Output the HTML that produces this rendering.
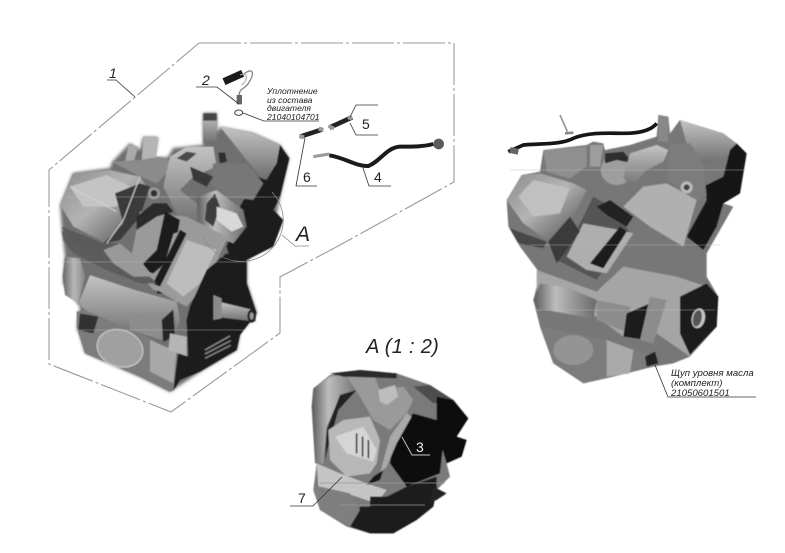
<!DOCTYPE html>
<html><head><meta charset="utf-8"><style>
html,body{margin:0;padding:0;background:#fff;width:785px;height:553px;overflow:hidden}
svg{display:block}
text{font-family:"Liberation Sans",sans-serif;fill:#222}
.i{font-style:italic}
.l{fill:none;stroke:#333;stroke-width:.8}
.b{fill:none;stroke:#9a9a9a;stroke-width:1.1;stroke-dasharray:42 3 3 3}
</style></head><body>
<svg width="785" height="553" viewBox="0 0 785 553" xmlns="http://www.w3.org/2000/svg">
<defs>
<filter id="s" x="-5%" y="-5%" width="110%" height="110%"><feGaussianBlur stdDeviation="1.6"/></filter>
<linearGradient id="g1" x1="0" y1="0" x2="1" y2="1"><stop offset="0" stop-color="#8c8c8c"/><stop offset=".45" stop-color="#b4b4b4"/><stop offset="1" stop-color="#4a4a4a"/></linearGradient>
<linearGradient id="g2" x1="0" y1="0" x2="1" y2="0"><stop offset="0" stop-color="#5a5a5a"/><stop offset=".35" stop-color="#bdbdbd"/><stop offset="1" stop-color="#6a6a6a"/></linearGradient>
<linearGradient id="g3" x1="0" y1="0" x2="0" y2="1"><stop offset="0" stop-color="#c4c4c4"/><stop offset="1" stop-color="#6e6e6e"/></linearGradient>
<linearGradient id="g5" x1="0" y1="0" x2="1" y2="0"><stop offset="0" stop-color="#666"/><stop offset=".5" stop-color="#b8b8b8"/><stop offset="1" stop-color="#888"/></linearGradient>
</defs>
<rect width="785" height="553" fill="#fff"/>

<!-- dash-dot border -->
<path class="b" d="M199 43H454V182L340 245L280 277V333L171 412L49 364V170Z"/>

<!-- Engine 1 silhouette in page coordinates -->
<polygon filter="url(#s)" fill="#6f6f6f" points="60,205 73,173 110,168 112,162 130,143 140,150 143,137 158,137 155,158 168,157 173,148 203,145 203,113 217,113 217,133 220,127 253,133 280,145 289,158 280,197 277,213 280,226 273,240 267,245 247,260 247,283 257,313 240,333 237,350 200,372 170,392 140,377 85,353 77,327 80,307 63,283 65,257 62,230"/>

<!-- Engine 1 upper: crop (40,30) 3x -->
<g transform="translate(40,30) scale(.33333)" filter="url(#s)">
<polygon fill="url(#g1)" points="60,525 100,430 210,420 300,440 320,470 280,590 200,640 100,590"/>
<polygon fill="#c4c4c4" points="90,470 200,435 270,470 230,530 130,530"/>
<polygon fill="#3b3b3b" points="225,490 300,460 330,470 300,560 240,630 190,640 250,580"/>
<polygon fill="#5a5a5a" points="65,590 190,640 240,640 200,690 100,660"/>
<polygon fill="#a9a9a9" points="265,345 295,350 280,400 255,395"/>
<polygon fill="#b5b5b5" points="310,320 355,322 345,395 305,395"/>
<polygon fill="#8b8b8b" points="215,395 300,390 360,380 410,400 350,460 300,440"/>
<polygon fill="url(#g3)" points="370,470 390,380 440,350 520,350 530,410 460,440 420,480 470,520 470,590 420,570"/>
<polygon fill="#4c4c4c" points="410,385 440,365 470,370 440,395"/>
<polygon fill="url(#g3)" points="490,250 530,250 530,340 490,340"/>
<polygon fill="#444" points="490,250 530,250 530,272 490,272"/>
<polygon fill="url(#g3)" points="540,290 640,310 720,345 710,400 670,450 620,390"/>
<polygon fill="#1f1f1f" points="720,345 748,385 720,500 700,540 730,570 700,650 620,690 580,720 560,650 600,530 650,440 680,450 710,400"/>
<polygon fill="#777" points="520,400 620,400 670,460 640,510 560,500 510,460"/>
<polygon fill="#2f2f2f" points="535,368 555,368 560,395 540,400"/>
<polygon fill="#383838" points="450,410 520,440 500,470 460,450"/>
<polygon fill="url(#g2)" points="470,500 530,480 610,540 620,590 580,640 480,600"/>
<polygon fill="#3d3d3d" points="500,520 525,490 540,530 520,590 495,570"/>
<polygon fill="#d8d8d8" points="530,530 590,550 610,590 575,605 530,570"/>
<circle cx="342" cy="490" r="18" fill="#9a9a9a"/><circle cx="342" cy="490" r="10" fill="#333"/>
<polygon fill="#9a9a9a" points="300,545 440,560 560,620 520,720 420,790 340,780 270,700"/>
<polygon fill="#2a2a2a" points="290,560 340,520 380,520 400,545 350,560 290,600"/>
<polygon fill="#1c1c1c" points="375,545 420,570 400,680 340,730 290,720 350,660"/>
<polygon fill="#1a1a1a" points="440,620 450,640 370,790 350,790"/>
<path d="M90 470L230 545M300 440L250 570L200 640" fill="none" stroke="#d4d4d4" stroke-width="3"/>
</g>

<!-- Engine 1 lower: crop (40,220) 3x -->
<g transform="translate(40,220) scale(.33333)" filter="url(#s)">
<polygon fill="#9b9b9b" points="400,40 440,30 560,60 520,140 480,210 440,260 410,245 350,210"/>
<polygon fill="#bdbdbd" points="440,60 530,90 480,190 430,230 380,190"/>
<polygon fill="#1a1a1a" points="420,30 440,40 360,200 340,190"/>
<polygon fill="#5c5c5c" points="65,30 110,70 200,100 290,130 350,190 300,190 200,150 100,100 70,60"/>
<polygon fill="#999" points="190,90 240,70 300,120 340,170 280,170 220,130"/>
<polygon fill="url(#g5)" points="75,110 120,115 135,170 115,250 75,225 68,170"/>
<polygon fill="url(#g3)" points="115,250 150,165 285,210 410,245 420,300 400,360 370,360 270,330 135,270"/>
<polygon fill="#8d8d8d" points="265,275 370,300 365,360 270,330"/>
<polygon fill="#262626" points="365,300 400,268 405,350 370,365"/>
<polygon fill="#7c7c7c" points="110,275 135,270 270,330 330,355 410,400 400,510 390,515 300,470 135,400 110,320"/>
<ellipse cx="240" cy="385" rx="70" ry="55" fill="#a0a0a0" transform="rotate(18 240 385)"/>
<polygon fill="#333" points="120,280 175,290 160,340 115,330"/>
<polygon fill="#a8a8a8" points="330,360 410,395 400,490 330,455"/>
<polygon fill="#b5b5b5" points="390,340 440,350 440,410 385,390"/>
<polygon fill="#1d1d1d" points="450,260 500,150 560,100 620,120 620,190 650,280 600,345 590,390 480,455 420,480 400,512 415,400 445,410 440,300"/>
<polygon fill="url(#g3)" points="535,245 640,270 648,305 540,292"/>
<ellipse cx="635" cy="288" rx="13" ry="20" fill="#222"/><ellipse cx="635" cy="288" rx="6" ry="11" fill="#999"/>
<polygon fill="#8a8a8a" points="520,225 545,235 545,295 520,300"/>
<g stroke="#8a8a8a" stroke-width="4"><line x1="495" y1="390" x2="570" y2="348"/><line x1="495" y1="402" x2="572" y2="362"/><line x1="495" y1="415" x2="572" y2="376"/></g>
<ellipse cx="240" cy="385" rx="70" ry="55" fill="none" stroke="#cfcfcf" stroke-width="3" transform="rotate(18 240 385)"/>
</g>

<!-- small parts -->
<g transform="translate(40,30) scale(.33333)">
<path d="M552 155L608 130" stroke="#1a1a1a" stroke-width="22" fill="none"/>
<path d="M612 132C640 110 645 130 625 160C612 180 595 175 598 200" stroke="#888" stroke-width="4" fill="none"/>
<path d="M600 135C625 125 625 150 605 165" stroke="#aaa" stroke-width="3" fill="none"/>
<rect x="590" y="195" width="16" height="28" fill="#666"/>
<ellipse cx="596" cy="248" rx="12" ry="8" fill="#fff" stroke="#444" stroke-width="3"/>
<path d="M780 320L848 298" stroke="#222" stroke-width="14" fill="none"/>
<path d="M778 318L792 322M836 296L850 300" stroke="#999" stroke-width="12" fill="none"/>
<path d="M868 293L936 262" stroke="#222" stroke-width="14" fill="none"/>
<path d="M866 288L882 296M924 262L936 266" stroke="#999" stroke-width="11" fill="none"/>
<path d="M820 380L868 372" stroke="#999" stroke-width="9" fill="none"/>
<path d="M868 376C920 385 950 410 985 408C1020 395 1040 352 1080 350C1120 350 1150 350 1180 342" stroke="#1b1b1b" stroke-width="12" fill="none"/>
<ellipse cx="1196" cy="342" rx="16" ry="16" fill="#5b5b5b"/>
</g>

<!-- Engine 2 : crop (490,100) 3x -->
<g transform="translate(490,100) scale(.33333)" filter="url(#s)">
<polygon fill="#777" points="50,300 95,225 150,215 160,150 290,135 310,125 340,130 345,150 420,135 500,110 505,45 535,50 540,100 570,60 700,100 770,160 750,280 700,310 730,320 690,390 650,460 650,530 685,590 680,680 600,770 550,790 490,800 370,830 280,850 240,800 190,790 150,680 130,600 150,520 90,440 55,380"/>
<polygon fill="url(#g1)" points="50,300 95,225 150,220 250,250 290,270 250,350 170,420 100,370"/>
<polygon fill="#c0c0c0" points="85,290 130,240 240,265 210,340 130,350"/>
<polygon fill="#474747" points="60,385 170,425 160,445 85,430"/>
<polygon fill="#9d9d9d" points="300,135 340,135 330,200 300,200"/>
<polygon fill="#8f8f8f" points="160,150 290,140 290,200 240,235 170,215"/>
<ellipse cx="380" cy="210" rx="48" ry="45" fill="#9e9e9e"/>
<polygon fill="#2d2d2d" points="345,160 400,155 430,190 380,180 345,190"/>
<polygon fill="url(#g3)" points="420,160 500,135 535,150 520,185 470,210 420,265 400,230"/>
<polygon fill="#888" points="505,45 535,50 535,125 505,125"/>
<polygon fill="url(#g3)" points="570,60 700,100 740,130 720,170 640,190 590,130"/>
<polygon fill="#171717" points="770,160 750,280 700,310 680,380 640,450 590,410 650,300 640,260 700,230 720,150 740,130"/>
<polygon fill="#7c7c7c" points="540,130 600,130 640,190 650,290 600,310 530,230"/>
<polygon fill="#b0b0b0" points="400,320 460,260 530,250 620,300 580,440 480,380"/>
<circle cx="590" cy="262" r="18" fill="#bbb"/><circle cx="590" cy="262" r="9" fill="#444"/>
<polygon fill="#555" points="310,290 380,330 420,400 320,540 200,480 260,390"/>
<polygon fill="#aeaeae" points="280,370 390,390 430,400 350,520 290,510 230,470"/>
<polygon fill="#1e1e1e" points="300,490 390,380 410,395 340,505"/>
<polygon fill="#222" points="320,320 360,300 430,350 410,380 350,345"/>
<polygon fill="#3a3a3a" points="175,425 240,350 270,395 200,490"/>
<polygon fill="#a5a5a5" points="140,510 320,575 400,500 560,530 650,560 685,590 680,680 600,770 500,700 400,710 320,650 140,620"/>
<polygon fill="url(#g2)" points="130,600 150,550 240,565 320,600 310,660 280,650 140,625"/>
<polygon fill="#8d8d8d" points="320,600 420,620 420,700 320,660"/>
<polygon fill="#1d1d1d" points="410,640 480,610 500,610 470,720 400,710"/>
<polygon fill="#8c8c8c" points="480,590 530,600 490,730 450,720"/>
<polygon fill="#1a1a1a" points="570,590 650,550 685,590 680,680 600,765 570,700"/>
<ellipse cx="625" cy="655" rx="20" ry="30" fill="#c5c5c5" transform="rotate(12 625 655)"/>
<ellipse cx="622" cy="655" rx="13" ry="25" fill="#555" transform="rotate(12 622 655)"/>
<polygon fill="#7b7b7b" points="150,680 350,720 470,760 500,790 370,830 280,850 190,790"/>
<ellipse cx="250" cy="750" rx="60" ry="45" fill="#949494"/>
<polygon fill="#aaa" points="350,720 430,750 420,820 350,830"/>
<polygon fill="#222" points="465,770 495,755 505,790 470,800"/>
</g>
<g transform="translate(490,100) scale(.33333)">
<path d="M55 155L100 135C150 130 210 135 250 115C300 95 360 100 400 100C440 100 480 95 500 70" stroke="#161616" stroke-width="11" fill="none"/>
<path d="M60 150L85 155" stroke="#666" stroke-width="18"/>
<path d="M210 45L232 95" stroke="#999" stroke-width="5"/>
<path d="M225 100L250 98" stroke="#888" stroke-width="8"/>
</g>

<!-- Detail view : crop (280,330) 3x -->
<g transform="translate(280,330) scale(.33333)" filter="url(#s)">
<polygon fill="#7a7a7a" points="100,175 150,135 240,120 350,130 450,165 520,210 565,265 530,320 560,330 545,380 500,400 510,440 470,480 460,530 410,570 340,610 270,610 200,590 120,540 100,480 110,400 100,300 95,230"/>
<polygon fill="url(#g2)" points="100,175 150,140 215,130 240,175 180,200 140,290 130,400 105,400 95,230"/>
<polygon fill="#222" points="180,195 230,180 175,240 150,330 135,390 140,300"/>
<polygon fill="#9a9a9a" points="195,130 280,130 300,180 370,170 400,210 380,250 330,300 280,270 240,200"/>
<polygon fill="#2b2b2b" points="150,130 240,120 350,130 350,145 190,140"/>
<polygon fill="#bdbdbd" points="295,180 345,165 355,200 320,225 300,215"/>
<polygon fill="#4e4e4e" points="400,170 450,165 520,210 460,220"/>
<polygon fill="#111" points="340,310 400,250 470,270 490,340 480,430 380,470 330,400"/>
<polygon fill="#111" points="470,200 520,210 565,265 530,320 560,330 545,380 500,400 470,300"/>
<polygon fill="#a9a9a9" points="330,320 380,250 395,260 350,340 320,410 300,430"/>
<polygon fill="#b8b8b8" points="145,300 190,270 270,260 300,330 290,400 270,430 200,440 150,390"/>
<polygon fill="#d5d5d5" points="165,320 250,290 290,360 280,395 200,370"/>
<g stroke="#333" stroke-width="5"><line x1="230" y1="310" x2="230" y2="370"/><line x1="248" y1="320" x2="248" y2="380"/><line x1="265" y1="330" x2="265" y2="385"/></g>
<polygon fill="#c5c5c5" points="110,400 180,430 260,460 320,480 290,520 200,490 115,470"/>
<polygon fill="#151515" points="280,440 310,420 300,450 260,465"/>
<polygon fill="#1a1a1a" points="320,500 380,470 470,440 470,480 460,530 410,570 340,610 270,610 210,590 240,530 270,530 270,500"/>
<polygon fill="#7f7f7f" points="100,480 120,470 210,490 240,540 210,590 120,540"/>
<polygon fill="#222" points="460,470 500,490 470,510 445,520"/>
</g>
<g stroke="#bbb" stroke-width=".8" opacity=".55">
<line x1="62" y1="197" x2="280" y2="197"/><line x1="62" y1="262" x2="250" y2="262"/><line x1="75" y1="330" x2="245" y2="330"/>
<line x1="510" y1="170" x2="745" y2="170"/><line x1="530" y1="245" x2="720" y2="245"/><line x1="535" y1="310" x2="715" y2="310"/>
</g>
<line x1="320" y1="483" x2="445" y2="483" stroke="#999" stroke-width=".8"/>
<line x1="340" y1="505" x2="425" y2="505" stroke="#999" stroke-width=".8"/>

<!-- A circle -->
<path d="M272 192A41 41 0 0 1 246 261" fill="none" stroke="#888" stroke-width=".8"/>
<path d="M246 261A41 41 0 0 1 203 236" fill="none" stroke="#888" stroke-width=".6"/>

<!-- leaders -->
<path class="l" d="M107 80H116L135 97"/>
<path class="l" d="M196 87H217L239 104"/>
<path class="l" d="M243 113L264 121H319"/>
<path class="l" d="M378 105H356L350 117"/>
<path class="l" d="M350 123L356 135H378"/>
<path class="l" d="M305 138L296 186H317"/>
<path class="l" d="M363 168L369 186H391"/>
<path d="M282 235L295 246H309" fill="none" stroke="#888" stroke-width=".8"/>
<path class="l" d="M655 365L668 397H756" stroke="#555"/>
<path d="M402 437L412 455H430" fill="none" stroke="#ccc" stroke-width=".9"/>
<path class="l" d="M342 477L313 506H290"/>

<!-- labels -->
<text class="i" x="109" y="78" font-size="14">1</text>
<text class="i" x="202" y="85" font-size="14">2</text>
<text x="362" y="129" font-size="14">5</text>
<text x="303" y="182" font-size="14">6</text>
<text x="374" y="182" font-size="14">4</text>
<text class="i" x="296" y="241" font-size="21">A</text>
<text class="i" x="267" y="94" font-size="8.6">Уплотнение</text>
<text class="i" x="267" y="103" font-size="8.6">из состава</text>
<text class="i" x="267" y="111" font-size="8.6">двигателя</text>
<text class="i" x="267" y="120" font-size="8.6">21040104701</text>
<text class="i" x="671" y="376" font-size="9.6">Щуп уровня масла</text>
<text class="i" x="671" y="386" font-size="9.6">(комплект)</text>
<text class="i" x="671" y="396" font-size="9.6">21050601501</text>
<text class="i" x="366" y="353" font-size="20" letter-spacing=".3">A (1 : 2)</text>
<text x="416" y="452" font-size="14" style="fill:#eee">3</text>
<text x="298" y="503" font-size="14">7</text>
</svg>
</body></html>
